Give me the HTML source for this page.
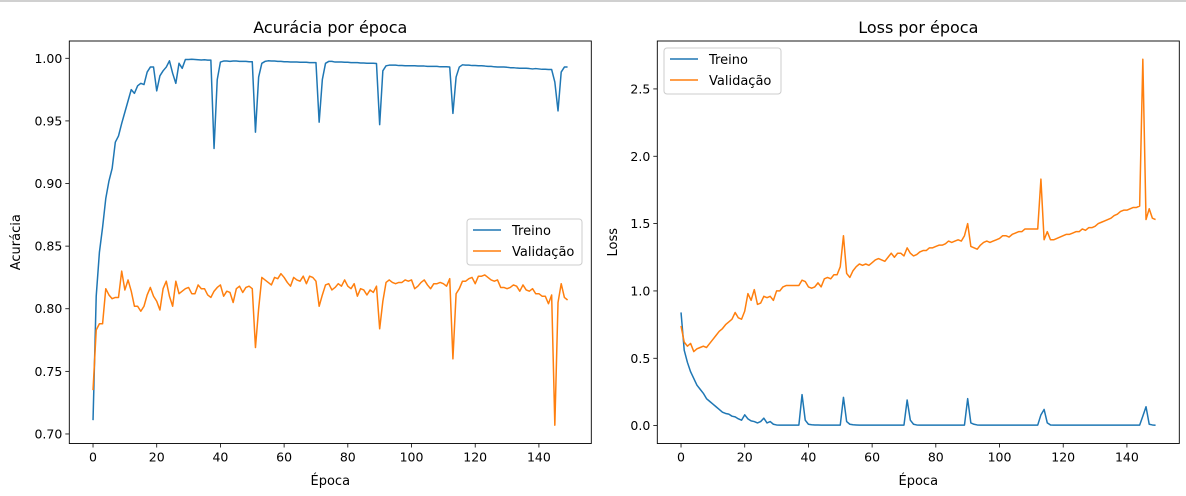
<!DOCTYPE html>
<html><head><meta charset="utf-8">
<style>
html,body{margin:0;padding:0;background:#fff;}
svg{display:block;font-family:"DejaVu Sans","Liberation Sans",sans-serif;}
</style></head>
<body>
<svg id="chart" width="1186" height="496" viewBox="0 0 1186 496" xmlns="http://www.w3.org/2000/svg">
<rect x="0" y="0" width="1186" height="496" fill="#fff"/>
<rect x="0" y="0" width="1186" height="2" fill="#d0d0d0"/>
</svg>
<script>
const epochs = Array.from({length:150},(_,i)=>i);
const trainAcc = [.711,.810,.845,.865,.888,.902,.912,.933,.938,.948,
.957,.966,.975,.972,.978,.980,.979,.989,.993,.993,
.974,.986,.990,.993,.998,.988,.980,.996,.992,.999,
.999,.9992,.9990,.9988,.9986,.9988,.9985,.9985,.928,.983,
.997,.9978,.9978,.9975,.9978,.9978,.9975,.9975,.9975,.9972,
.9972,.941,.985,.996,.9975,.998,.9978,.9978,.9975,.9975,
.9972,.9972,.997,.997,.997,.9968,.9968,.9968,.9965,.9965,
.9965,.949,.983,.996,.9975,.9975,.997,.997,.997,.9968,
.9968,.9965,.9965,.9965,.9962,.9962,.996,.996,.996,.9958,
.947,.990,.994,.9945,.9945,.9945,.9942,.9942,.994,.994,
.994,.994,.9938,.9938,.9938,.9935,.9935,.9935,.9935,.9932,
.9932,.9932,.993,.956,.985,.993,.9948,.9945,.9945,.9942,
.9942,.994,.994,.9938,.9935,.9935,.9932,.993,.993,.993,
.9928,.9925,.9925,.9922,.992,.992,.992,.9918,.9915,.9918,
.9915,.9912,.9912,.991,.991,.981,.958,.989,.993,.993];
const valAcc = [.735,.783,.788,.788,.816,.811,.808,.809,.809,.830,
.815,.823,.814,.802,.802,.798,.802,.811,.817,.810,
.806,.799,.816,.822,.810,.802,.822,.812,.814,.816,
.817,.812,.812,.819,.816,.816,.811,.809,.814,.817,
.819,.810,.814,.813,.805,.816,.818,.813,.817,.818,
.816,.769,.800,.825,.823,.821,.819,.825,.824,.828,
.825,.821,.818,.825,.823,.822,.826,.820,.826,.825,
.822,.802,.811,.819,.820,.815,.817,.820,.818,.823,
.818,.816,.820,.810,.816,.815,.811,.815,.813,.818,
.784,.806,.821,.823,.821,.820,.821,.821,.823,.822,
.823,.816,.818,.821,.823,.819,.816,.820,.820,.821,
.820,.818,.824,.760,.812,.816,.822,.822,.824,.825,
.820,.826,.826,.827,.825,.823,.822,.823,.817,.817,
.816,.817,.819,.818,.814,.819,.815,.814,.816,.812,
.812,.810,.810,.804,.811,.707,.805,.820,.809,.807];
const trainLoss = [.84,.56,.47,.40,.35,.30,.27,.24,.20,.18,
.16,.14,.12,.10,.09,.085,.07,.065,.05,.04,
.08,.05,.035,.03,.02,.03,.055,.02,.03,.01,
.005,.004,.004,.004,.004,.004,.004,.004,.23,.04,
.01,.006,.005,.005,.004,.004,.004,.004,.004,.004,
.004,.21,.03,.01,.006,.005,.004,.004,.004,.004,
.004,.004,.004,.004,.004,.004,.004,.004,.004,.004,
.004,.19,.04,.01,.005,.004,.004,.004,.004,.004,
.004,.004,.004,.004,.004,.004,.004,.004,.004,.004,
.20,.02,.01,.005,.004,.004,.004,.004,.004,.004,
.004,.004,.004,.004,.004,.004,.004,.004,.004,.004,
.004,.004,.004,.08,.12,.02,.005,.004,.004,.004,
.004,.004,.004,.004,.004,.004,.004,.004,.004,.004,
.004,.004,.004,.004,.004,.004,.004,.004,.004,.004,
.004,.004,.004,.004,.004,.07,.14,.01,.005,.003];
const valLoss = [.74,.62,.59,.61,.55,.57,.58,.59,.58,.61,
.64,.67,.70,.72,.75,.77,.79,.84,.80,.79,
.85,.98,.93,1.01,.90,.91,.96,.95,.96,.93,
1.00,1.00,1.03,1.04,1.04,1.04,1.04,1.04,1.08,1.07,
1.03,1.02,1.03,1.06,1.03,1.09,1.10,1.09,1.12,1.12,
1.18,1.41,1.13,1.10,1.15,1.18,1.20,1.19,1.20,1.19,
1.21,1.23,1.24,1.23,1.22,1.25,1.28,1.25,1.28,1.28,
1.26,1.32,1.28,1.26,1.27,1.29,1.30,1.30,1.32,1.32,
1.33,1.34,1.34,1.35,1.37,1.36,1.37,1.38,1.37,1.41,
1.50,1.33,1.32,1.31,1.34,1.36,1.37,1.36,1.37,1.38,
1.39,1.41,1.41,1.40,1.42,1.43,1.44,1.44,1.46,1.46,
1.46,1.46,1.46,1.83,1.38,1.44,1.38,1.38,1.39,1.40,
1.41,1.42,1.42,1.43,1.44,1.44,1.46,1.45,1.47,1.47,
1.48,1.50,1.51,1.52,1.53,1.54,1.56,1.57,1.59,1.60,
1.60,1.61,1.62,1.62,1.63,2.72,1.53,1.61,1.54,1.53];
const xTicks = [0,20,40,60,80,100,120,140];
const accTicks = [0.70,0.75,0.80,0.85,0.90,0.95,1.00];
const lossTicks = [0,0.5,1.0,1.5,2.0,2.5];
const seriesNames = ["Treino","Validação"];

const NS="http://www.w3.org/2000/svg";
const svg=document.getElementById('chart');
function mk(tag,attrs,parent){const e=document.createElementNS(NS,tag);for(const k in attrs)e.setAttribute(k,attrs[k]);(parent||svg).appendChild(e);return e;}

function drawPanel(p){
  const g=mk('g',{});
  
  
  const all=p.series.flat();
  const mn=Math.min(...all), mx=Math.max(...all), pad=(mx-mn)*0.05;
  const y0=mn-pad, y1=mx+pad;
  const xn=Math.min(...epochs), xm=Math.max(...epochs), xp=(xm-xn)*0.05;
  const sx=v=>p.L+(v-(xn-xp))/((xm+xp)-(xn-xp))*(p.R-p.L);
  const sy=v=>p.B-(v-y0)/(y1-y0)*(p.B-p.T);
  const colors=['#1f77b4','#ff7f0e'];
  p.series.forEach((s,si)=>{
    const d=s.map((v,i)=>(i?'L':'M')+sx(epochs[i]).toFixed(2)+','+sy(v).toFixed(2)).join('');
    const path=mk('path',{d:d,fill:'none',stroke:colors[si],'stroke-width':1.5,'stroke-linejoin':'round'},g);
    
    
  });
  mk('rect',{x:p.L,y:p.T,width:p.R-p.L,height:p.B-p.T,fill:'none',stroke:'#000','stroke-width':0.9},g);
  xTicks.forEach(t=>{
    const x=sx(t);
    mk('line',{x1:x,x2:x,y1:p.B,y2:p.B+4,stroke:'#000','stroke-width':0.8},g);
    const tx=mk('text',{x:x,y:p.B+18,'font-size':12.5,'text-anchor':'middle',fill:'#000'},g);
    tx.textContent=t;
    
    
  });
  p.yTicks.forEach(t=>{
    const y=sy(t);
    mk('line',{x1:p.L-4,x2:p.L,y1:y,y2:y,stroke:'#000','stroke-width':0.8},g);
    const tx=mk('text',{x:p.L-7,y:y+4.5,'font-size':12.5,'text-anchor':'end',fill:'#000'},g);
    tx.textContent=t.toFixed(p.dec);
    
    
  });
  const ti=mk('text',{x:(p.L+p.R)/2,y:p.T-8,'font-size':16,'text-anchor':'middle',fill:'#000'},g);
  ti.textContent=p.title;
  
  
  const xl=mk('text',{x:(p.L+p.R)/2,y:485,'font-size':13,'text-anchor':'middle',fill:'#000'},g);
  xl.textContent='Época';
  
  
  const yl=mk('text',{x:0,y:0,'font-size':13,'text-anchor':'middle',fill:'#000',transform:'translate('+p.ylx+','+((p.T+p.B)/2)+') rotate(-90)'},g);
  yl.textContent=p.ylabel;
  
  
  const lg=mk('g',{},g);
  
  
  mk('rect',{x:p.lgx,y:p.lgy,width:p.lgw,height:46,rx:3,fill:'#fff','fill-opacity':0.8,stroke:'#ccc','stroke-width':1},lg);
  seriesNames.forEach((n,i)=>{
    const yy=p.lgy+11+i*21;
    mk('line',{x1:p.lgx+6,x2:p.lgx+34,y1:yy,y2:yy,stroke:colors[i],'stroke-width':1.5},lg);
    const t=mk('text',{x:p.lgx+45,y:yy+5,'font-size':13,fill:'#000'},lg);
    t.textContent=n;
    
    
  });
}
drawPanel({name:'accuracy-chart',key:'acc',L:69.3,R:591.3,T:41,B:443.5,series:[trainAcc,valAcc],yTicks:accTicks,dec:2,title:'Acurácia por época',ylabel:'Acurácia',ylx:20,lgx:467,lgy:219,lgw:115});
drawPanel({name:'loss-chart',key:'loss',L:657.3,R:1179.3,T:41,B:443.5,series:[trainLoss,valLoss],yTicks:lossTicks,dec:1,title:'Loss por época',ylabel:'Loss',ylx:617,lgx:664,lgy:48,lgw:117});
</script>
</body></html>
